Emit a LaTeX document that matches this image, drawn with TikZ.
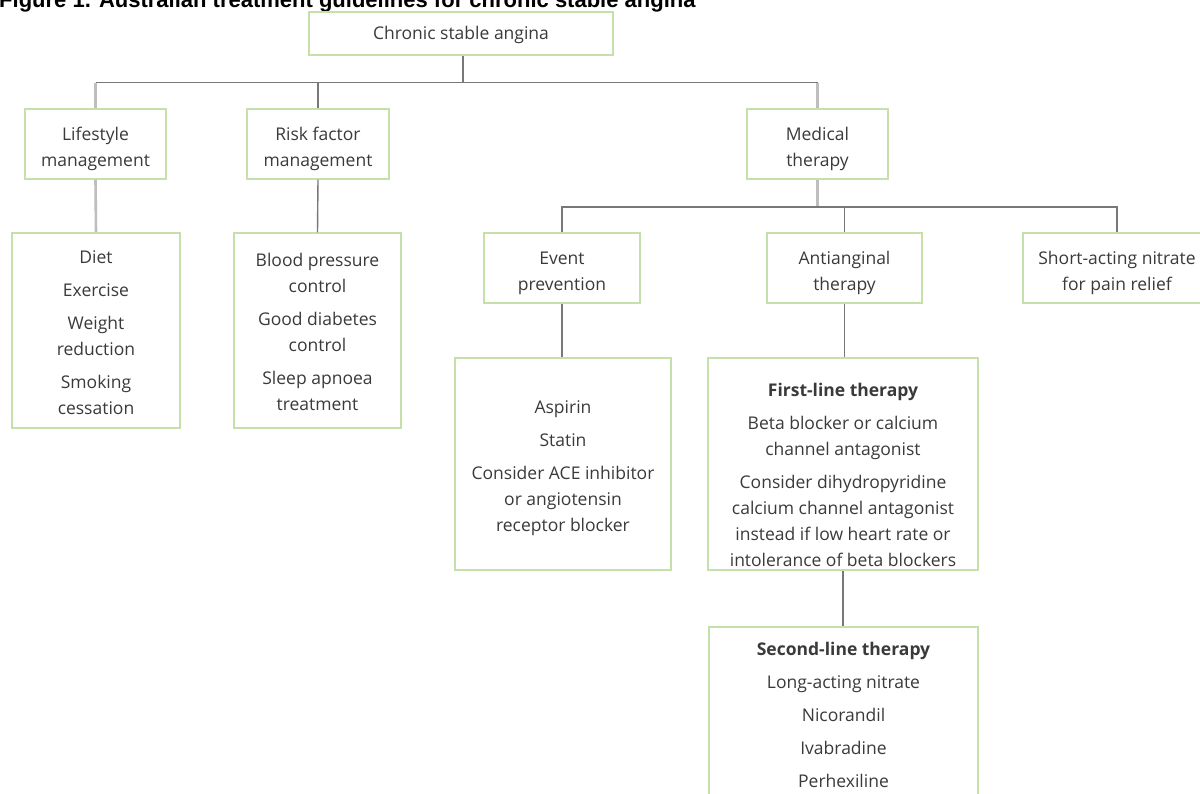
\documentclass[tikz,border=0pt]{standalone}
\usepackage{fontspec}
\setmainfont{Open Sans}
\newfontfamily\titlefont{Liberation Sans}
\newcommand\tpad[1]{\rule{0pt}{#1}}
\definecolor{boxgreen}{RGB}{198,224,172}
\definecolor{linegray}{RGB}{120,120,120}
\definecolor{lightline}{RGB}{190,190,190}
\definecolor{txtgray}{RGB}{58,58,58}
\begin{document}
\begin{tikzpicture}[x=1pt,y=-1pt,
  gbox/.style={draw=boxgreen,line width=1.3pt,fill=white,inner sep=0pt,
    align=center,text=txtgray,font=\fontsize{17.5}{26}\selectfont},
  gtext/.style={inner sep=0pt,align=center,text=txtgray,font=\fontsize{17.5}{26}\selectfont},
  conn/.style={draw=linegray,line width=1.4pt},
  lconn/.style={draw=lightline,line width=2.6pt}]
\useasboundingbox (0,0) rectangle (1200,793);
\clip (0,0) rectangle (1200,793);
\fill[white] (0,0) rectangle (1200,793);
% title (cut off at top, as in the reference)
\node[anchor=base west,inner sep=0pt,font=\titlefont\bfseries\fontsize{22}{26}\selectfont] (title) at (-1,7) {Figure 1. Australian treatment guidelines for chronic stable angina};
% boxes
\node[gbox,minimum width=304pt,minimum height=43pt] (top) at (461,33.5) {\tpad{16.5pt}Chronic stable angina};
\node[gbox,minimum width=141pt,minimum height=70pt] (life) at (95.5,144) {\tpad{23pt}Lifestyle\\management};
\node[gbox,minimum width=142pt,minimum height=70pt] (risk) at (318,144) {\tpad{23pt}Risk factor\\management};
\node[gbox,minimum width=141pt,minimum height=70pt] (med) at (817.5,144) {\tpad{23pt}Medical\\therapy};
\node[gbox,minimum width=168pt,minimum height=195pt] (lifed) at (96,330.5) {\tpad{17.5pt}Diet\\[7pt]Exercise\\[7pt]Weight\\reduction\\[7pt]Smoking\\cessation};
\node[gbox,minimum width=167pt,minimum height=195pt] (riskd) at (317.5,330.5) {\tpad{15.5pt}Blood pressure\\control\\[7pt]Good diabetes\\control\\[7pt]Sleep apnoea\\treatment};
\node[gbox,minimum width=156pt,minimum height=70pt] (event) at (562,268) {\tpad{23pt}Event\\prevention};
\node[gbox,minimum width=155pt,minimum height=70pt] (anti) at (844.5,268) {\tpad{23pt}Antianginal\\therapy};
\node[gbox,minimum width=188pt,minimum height=70pt] (short) at (1117,268) {\tpad{23pt}Short-acting nitrate\\for pain relief};
\node[gbox,minimum width=216pt,minimum height=212pt] (eventd) at (563,464) {};
\node[gtext] (eventdT) at (563,468) {Aspirin\\[7pt]Statin\\[7pt]Consider ACE inhibitor\\or angiotensin\\receptor blocker};
\node[gbox,minimum width=270pt,minimum height=212pt] (first) at (843,464) {};
\node[gtext] (firstT) at (843,475) {\textbf{First-line therapy}\\[7pt]Beta blocker or calcium\\channel antagonist\\[7pt]Consider dihydropyridine\\calcium channel antagonist\\instead if low heart rate or\\intolerance of beta blockers};
\node[gbox,minimum width=269pt,minimum height=176pt] (second) at (843.5,715) {};
\node[gtext] (secondT) at (843.5,715) {\textbf{Second-line therapy}\\[7pt]Long-acting nitrate\\[7pt]Nicorandil\\[7pt]Ivabradine\\[7pt]Perhexiline};
% connectors
\coordinate (j1) at (463,82.5);
\coordinate (j2) at (817.5,207);
\draw[conn] (top.south -| j1) -- (j1);
\draw[lconn] (life.north) -- (life.north |- j1);
\draw[conn] (life.north |- j1) -- (med.north |- j1);
\draw[lconn] (med.north |- j1) -- (med.north);
\draw[conn] (risk.north) -- (risk.north |- j1);
\draw[lconn] (life.south) -- (lifed.north);
\draw[conn] (risk.south) -- (riskd.north);
\draw[lconn] (med.south) -- (j2);
\draw[conn] (event.north) |- (j2) -| (short.north);
\draw[conn] (anti.north) -- (anti.north |- j2);
\draw[conn] (event.south) -- (event.south |- eventd.north);
\draw[conn] (anti.south) -- (anti.south |- first.north);
\draw[conn] (first.south) -- (first.south |- second.north);
\end{tikzpicture}
\end{document}
